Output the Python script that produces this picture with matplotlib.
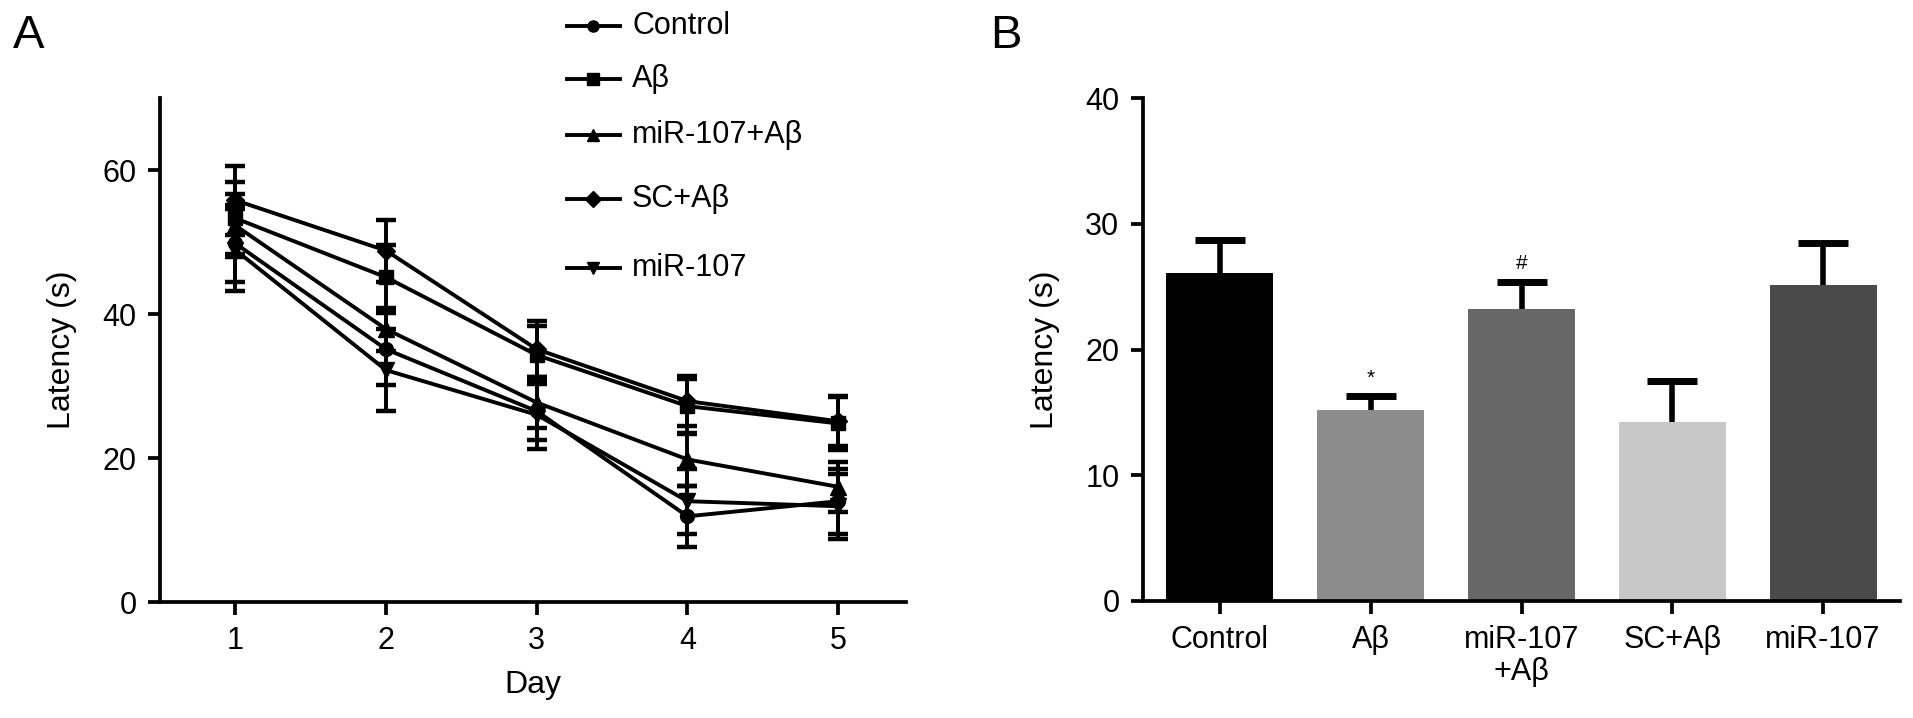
import matplotlib
matplotlib.use("Agg")
import matplotlib.pyplot as plt
from matplotlib.lines import Line2D

plt.rcParams['font.family'] = ['Liberation Sans', 'DejaVu Sans']

# ---------------- data ----------------
days = [1, 2, 3, 4, 5]
series_names = ['Control', 'Aβ', 'miR-107+Aβ', 'SC+Aβ', 'miR-107']
control_mean = [49.8, 35.1, 26.5, 11.9, 14.0]
control_err = [5.3, 5.0, 4.0, 4.2, 4.5]
abeta_mean = [53.3, 45.1, 34.3, 27.2, 24.8]
abeta_err = [5.0, 4.5, 4.0, 3.8, 3.7]
mir_abeta_mean = [52.3, 37.9, 27.7, 19.8, 16.0]
mir_abeta_err = [4.4, 3.0, 3.5, 3.7, 3.5]
sc_abeta_mean = [55.8, 48.8, 35.1, 27.9, 25.1]
sc_abeta_err = [4.8, 4.3, 3.9, 3.5, 3.5]
mir_mean = [48.9, 32.2, 26.0, 14.0, 13.3]
mir_err = [5.7, 5.7, 4.8, 4.5, 4.5]
markers = ['o', 's', '^', 'D', 'v']
marker_sizes = [10, 10, 11, 9, 11]
legend_marker_sizes = [8, 8, 9, 8, 9]

bar_labels = ['Control', 'Aβ', 'miR-107\n+Aβ', 'SC+Aβ', 'miR-107']
bar_values = [26.1, 15.2, 23.2, 14.2, 25.1]
bar_errors = [2.6, 1.1, 2.2, 3.3, 3.4]
bar_colors = ['#000000', '#8c8c8c', '#676767', '#c8c8c8', '#4a4a4a']
bar_marks = ['', '*', '#', '', '']

means = [control_mean, abeta_mean, mir_abeta_mean, sc_abeta_mean, mir_mean]
errs = [control_err, abeta_err, mir_abeta_err, sc_abeta_err, mir_err]

# ---------------- figure ----------------
W, H = 1913, 718
fig = plt.figure(figsize=(W / 100, H / 100), dpi=100)

def px_axes(l, r, t, b):
    return fig.add_axes([l / W, 1 - b / H, (r - l) / W, (b - t) / H])

axA = px_axes(160, 906, 98, 602)
axB = px_axes(1143, 1900, 98, 601)

spine_lw = 2.7
for ax in (axA, axB):
    for s in ('top', 'right'):
        ax.spines[s].set_visible(False)
    for s in ('left', 'bottom'):
        ax.spines[s].set_linewidth(spine_lw)
    ax.tick_params(direction='out', length=9, width=2.7, labelsize=22, pad=8)

# ---- Panel A ----
for m, e, mk, ms in zip(means, errs, markers, marker_sizes):
    axA.errorbar(days, m, yerr=e, color='black', marker=mk, markersize=ms,
                 linewidth=2.8, elinewidth=2.8, capsize=7.5, capthick=3.2)
axA.set_xlim(0.5, 5.45)
axA.set_ylim(0, 70)
axA.set_xticks(days)
axA.set_yticks([0, 20, 40, 60])
axA.set_xlabel('Day', fontsize=23, labelpad=10)
axA.set_ylabel('Latency (s)', fontsize=23, labelpad=18)

# manual legend (panel A)
leg_y = [26, 79, 135, 199, 268]
for name, mk, ms, y in zip(series_names, markers, legend_marker_sizes, leg_y):
    fy = 1 - y / H
    fig.add_artist(Line2D([567 / W, 620 / W], [fy, fy], color='black',
                          linewidth=2.8, transform=fig.transFigure))
    fig.add_artist(Line2D([593 / W], [fy], color='black', marker=mk,
                          markersize=ms, transform=fig.transFigure))
    fig.text(632 / W, fy, name, fontsize=22, va='center', ha='left')

# ---- Panel B ----
x = list(range(len(bar_labels)))
axB.bar(x, bar_values, width=0.71, color=bar_colors, edgecolor='none')
eb = axB.errorbar(x, bar_values, yerr=[[0] * len(bar_values), bar_errors],
                  fmt='none', ecolor='black', elinewidth=4, capsize=18, capthick=5)
# hide the lower caps (one-sided error bars)
caps = eb[1]
if len(caps) >= 2:
    caps[0].set_visible(False)
for xi, v, e, t in zip(x, bar_values, bar_errors, bar_marks):
    if t:
        axB.text(xi, v + e + 1.4, t, ha='center', va='center', fontsize=15)
axB.set_xlim(-0.51, 4.51)
axB.set_ylim(0, 40)
axB.set_xticks(x)
axB.set_xticklabels(bar_labels, fontsize=22, linespacing=1.1)
axB.set_yticks([0, 10, 20, 30, 40])
axB.set_ylabel('Latency (s)', fontsize=23, labelpad=18)

# panel letters
fig.text(13 / W, 1 - 36 / H, 'A', fontsize=34, va='center', ha='left')
fig.text(990 / W, 1 - 36 / H, 'B', fontsize=34, va='center', ha='left')

fig.savefig('out.png', dpi=100)
